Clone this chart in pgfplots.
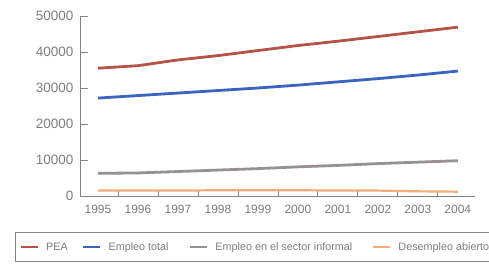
\documentclass[border=0pt]{standalone}
\usepackage{pgfplots}
\pgfplotsset{compat=1.18}
\usepackage{fontspec}
\setmainfont{Liberation Sans}
\definecolor{pea}{RGB}{178,84,72}
\definecolor{emp}{RGB}{58,100,190}
\definecolor{inf}{RGB}{150,145,148}
\definecolor{des}{RGB}{245,172,120}
\definecolor{txt}{RGB}{125,125,125}
\definecolor{axc}{RGB}{130,130,130}
\begin{document}
\begin{tikzpicture}
\begin{axis}[
  scale only axis,
  width=395pt, height=180pt,
  xmin=-0.45, xmax=9.43,
  ymin=0, ymax=50000,
  axis lines*=left,
  axis line style={axc, line width=0.8pt},
  xtick={0,...,9},
  xticklabels={1995,1996,1997,1998,1999,2000,2001,2002,2003,2004},
  minor xtick={0.5,1.5,2.5,3.5,4.5,5.5,6.5,7.5,8.5},
  major x tick style={draw=none},
  minor x tick style={axc, line width=0.8pt},
  minor tick length=5pt,
  ytick={0,10000,20000,30000,40000,50000},
  major y tick style={axc, line width=0.8pt},
  major tick length=8pt,
  tick align=inside,
  scaled y ticks=false,
  yticklabel style={/pgf/number format/1000 sep={}, font=\fontsize{13.5}{15}\selectfont, text=txt, xshift=-3pt},
  xticklabel style={font=\fontsize{12}{14}\selectfont, text=txt, yshift=-6pt},
  /pgf/number format/assume math mode=true,
  legend columns=4,
  legend style={at={(-0.1646,-0.2)}, anchor=north west,
    draw=axc, line width=0.8pt, font=\fontsize{10.8}{13}\selectfont, text=txt,
    /tikz/every odd column/.append style={column sep=5pt},
    /tikz/column 2/.style={column sep=12pt},
    /tikz/column 4/.style={column sep=18pt},
    /tikz/column 6/.style={column sep=18pt},
    inner ysep=8pt, inner xsep=4pt},
  legend image code/.code={\draw[#1] (0pt,0pt) -- (17pt,0pt);},
]
\addplot[pea, line width=2.8pt] coordinates {(0,35500)(1,36200)(2,37800)(3,39000)(4,40400)(5,41800)(6,43000)(7,44300)(8,45600)(9,46900)};
\addlegendentry{PEA}
\addplot[emp, line width=2.8pt] coordinates {(0,27200)(1,27900)(2,28600)(3,29300)(4,30000)(5,30800)(6,31700)(7,32600)(8,33600)(9,34700)};
\addlegendentry{Empleo total}
\addplot[inf, line width=2.8pt] coordinates {(0,6300)(1,6400)(2,6800)(3,7200)(4,7600)(5,8100)(6,8500)(7,9000)(8,9400)(9,9800)};
\addlegendentry{Empleo en el sector informal}
\addplot[des, line width=2.2pt] coordinates {(0,1500)(1,1500)(2,1500)(3,1600)(4,1600)(5,1600)(6,1500)(7,1500)(8,1300)(9,1200)};
\addlegendentry{Desempleo abierto}
\end{axis}
\pgfresetboundingbox
\path[use as bounding box] (-80pt,-68pt) rectangle (409pt,196pt);
\end{tikzpicture}
\end{document}
